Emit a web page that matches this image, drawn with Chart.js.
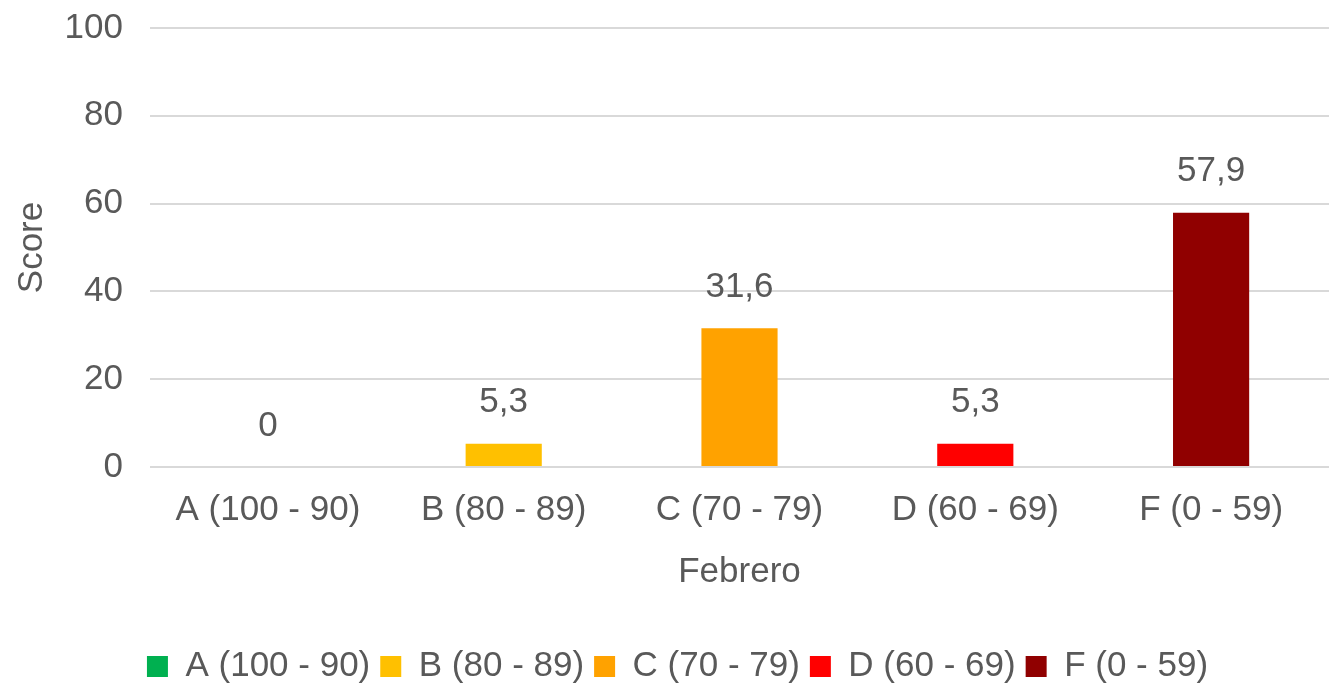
<!DOCTYPE html>
<html>
<head>
<meta charset="utf-8">
<script src="https://cdn.jsdelivr.net/npm/chart.js@4/dist/chart.umd.min.js"></script>
<style>
  html, body { margin: 0; padding: 0; background: #ffffff; overflow: hidden; }
  #chart-wrap { width: 1332px; height: 692px; }
</style>
</head>
<body>
<div id="chart-wrap"><canvas id="chart-score" width="1332" height="692"></canvas></div>
<script>
const categories = ['A (100 - 90)', 'B (80 - 89)', 'C (70 - 79)', 'D (60 - 69)', 'F (0 - 59)'];
const scores = [0, 5.3, 31.6, 5.3, 57.9];
const barColors = ['#00B050', '#FFC000', '#FFA200', '#FF0000', '#900000'];
const yTicks = [0, 20, 40, 60, 80, 100];

const textColor = '#595959';
const fontFamily = '"Liberation Sans", Arial, sans-serif';

// labels over each bar, with decimal comma like the original
const barLabels = {
    id: 'barLabels',
    afterDatasetsDraw: function (chart) {
        const ctx = chart.ctx;
        const meta = chart.getDatasetMeta(0);
        ctx.save();
        ctx.font = '35px ' + fontFamily;
        ctx.fillStyle = textColor;
        ctx.textAlign = 'center';
        ctx.textBaseline = 'middle';
        meta.data.forEach(function (bar, i) {
            const txt = String(scores[i]).replace('.', ',');
            ctx.fillText(txt, bar.x, bar.y - 41);
        });
        ctx.restore();
    }
};

function drawGraphScore(id) {
    var ctx = document.getElementById(id);
    return new Chart(ctx, {
        type: 'bar',
        data: {
            labels: categories,
            datasets: [{
                label: 'Score',
                data: scores,
                backgroundColor: barColors,
                borderWidth: 0,
                categoryPercentage: 1,
                barPercentage: 0.323
            }]
        },
        plugins: [barLabels],
        options: {
            responsive: false,
            animation: false,
            layout: {
                padding: { top: 28, right: 3, bottom: -2, left: 26 }
            },
            plugins: {
                legend: {
                    position: 'bottom',
                    labels: {
                        color: textColor,
                        font: { family: fontFamily, size: 35 },
                        boxWidth: 21,
                        boxHeight: 21,
                        padding: 10,
                        generateLabels: function (chart) {
                            return categories.map(function (c, i) {
                                return {
                                    text: c,
                                    fillStyle: barColors[i],
                                    strokeStyle: barColors[i],
                                    lineWidth: 0,
                                    fontColor: textColor,
                                    hidden: false,
                                    index: i
                                };
                            });
                        }
                    }
                },
                tooltip: { enabled: false },
                title: { display: false }
            },
            scales: {
                y: {
                    min: 0,
                    max: 100,
                    afterBuildTicks: function (scale) {
                        scale.ticks = yTicks.map(function (v) { return { value: v }; });
                    },
                    afterFit: function (scale) {
                        scale.width = 124;
                        scale.paddingTop = 0;
                        scale.paddingBottom = 0;
                    },
                    border: { display: false },
                    grid: {
                        color: '#D9D9D9',
                        lineWidth: 2,
                        drawTicks: false
                    },
                    ticks: {
                        color: textColor,
                        padding: 27,
                        font: { family: fontFamily, size: 35 }
                    },
                    title: {
                        display: true,
                        text: 'Score',
                        color: textColor,
                        padding: { top: -15, bottom: 0 },
                        font: { family: fontFamily, size: 35 }
                    }
                },
                x: {
                    afterFit: function (scale) {
                        scale.height = 172;
                        scale.paddingLeft = 0;
                        scale.paddingRight = 0;
                    },
                    border: { display: false },
                    grid: { display: false, drawTicks: false },
                    ticks: {
                        color: textColor,
                        padding: 22,
                        maxRotation: 0,
                        font: { family: fontFamily, size: 35 }
                    },
                    title: {
                        display: true,
                        text: 'Febrero',
                        color: textColor,
                        padding: { top: 46, bottom: 46 },
                        font: { family: fontFamily, size: 35 }
                    }
                }
            }
        }
    });
}

drawGraphScore('chart-score');
</script>
</body>
</html>
